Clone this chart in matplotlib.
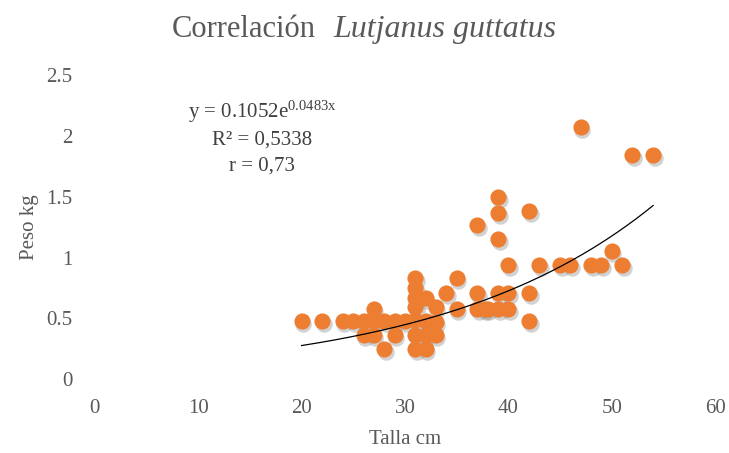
import numpy as np
import matplotlib
matplotlib.use('Agg')
import matplotlib.pyplot as plt
import matplotlib.transforms as mtransforms

plt.rcParams['font.family'] = ['Liberation Serif', 'DejaVu Serif']
plt.rcParams['mathtext.fontset'] = 'custom'
plt.rcParams['mathtext.rm'] = 'Liberation Serif'
plt.rcParams['mathtext.it'] = 'Liberation Serif:italic'

# ---------- data ----------
talla = [20, 22, 24, 25, 26, 27, 28, 29, 30, 31, 32, 33, 42,
         26, 27, 29, 31, 32, 33,
         28, 31, 32,
         27, 31, 33, 35, 37, 37.7, 38, 39, 40,
         31, 32, 34, 37, 39, 40, 42,
         31, 35, 31,
         40, 43, 45, 46, 48, 49, 51,
         50, 39, 37, 39, 42, 39, 52, 54, 47]
peso = [0.48, 0.48, 0.48, 0.48, 0.48, 0.48, 0.48, 0.48, 0.48, 0.49, 0.48, 0.47, 0.48,
        0.36, 0.36, 0.36, 0.36, 0.36, 0.36,
        0.25, 0.25, 0.25,
        0.58, 0.59, 0.59, 0.58, 0.58, 0.58, 0.58, 0.58, 0.58,
        0.67, 0.67, 0.71, 0.71, 0.71, 0.71, 0.71,
        0.83, 0.83, 0.75,
        0.94, 0.94, 0.94, 0.94, 0.94, 0.94, 0.94,
        1.05, 1.15, 1.27, 1.37, 1.38, 1.50, 1.84, 1.84, 2.07]

# exponential trendline as printed on the chart
coef_a = 0.1052
coef_b = 0.0483
trend_x = np.linspace(20, 54, 200)

orange = '#ED7D31'
gray = '#595959'

fig = plt.figure(figsize=(7.29, 4.53), dpi=100)
ax = fig.add_axes([0.130, 0.163, 0.851, 0.671])

# soft shadow under the markers
shadow = mtransforms.offset_copy(ax.transData, fig=fig, x=1.5, y=-3, units='dots')
ax.scatter(talla, peso, s=140, color='#7f7f7f', alpha=0.35, linewidths=0,
           transform=shadow, zorder=2)
ax.scatter(talla, peso, s=135, color=orange, linewidths=0, zorder=3)

ax.plot(trend_x, coef_a * np.exp(coef_b * trend_x), color='black', lw=0.9, zorder=4)

ax.set_xlim(0, 60)
ax.set_ylim(0, 2.5)
ax.set_xticks([0, 10, 20, 30, 40, 50, 60])
ax.set_yticks([0, 0.5, 1, 1.5, 2, 2.5])
ax.set_yticklabels(['0', '0.5', '1', '1.5', '2', '2.5'])
ax.tick_params(length=0, labelsize=15, labelcolor=gray)
ax.tick_params(axis='x', pad=14)
ax.tick_params(axis='y', pad=16)
for sp in ax.spines.values():
    sp.set_visible(False)

ax.set_xlabel('Talla cm', fontsize=15, color=gray, labelpad=9)
ax.set_ylabel('Peso kg', fontsize=15, color=gray, labelpad=5)

fig.text(0.433, 0.935, 'Correlación', fontsize=22, color=gray, ha='right', va='center')
fig.text(0.457, 0.935, 'Lutjanus guttatus', fontsize=23, color=gray, ha='left',
         va='center', style='italic')

ax.text(16.2, 2.2, r'y = 0.1052e$^{\mathrm{0.0483x}}$', fontsize=15, color='#404040',
        ha='center', va='center')
ax.text(16.2, 1.97, 'R² = 0,5338', fontsize=15, color='#404040', ha='center', va='center')
ax.text(16.2, 1.75, 'r = 0,73', fontsize=15, color='#404040', ha='center', va='center')

fig.savefig('out.png', dpi=100)
